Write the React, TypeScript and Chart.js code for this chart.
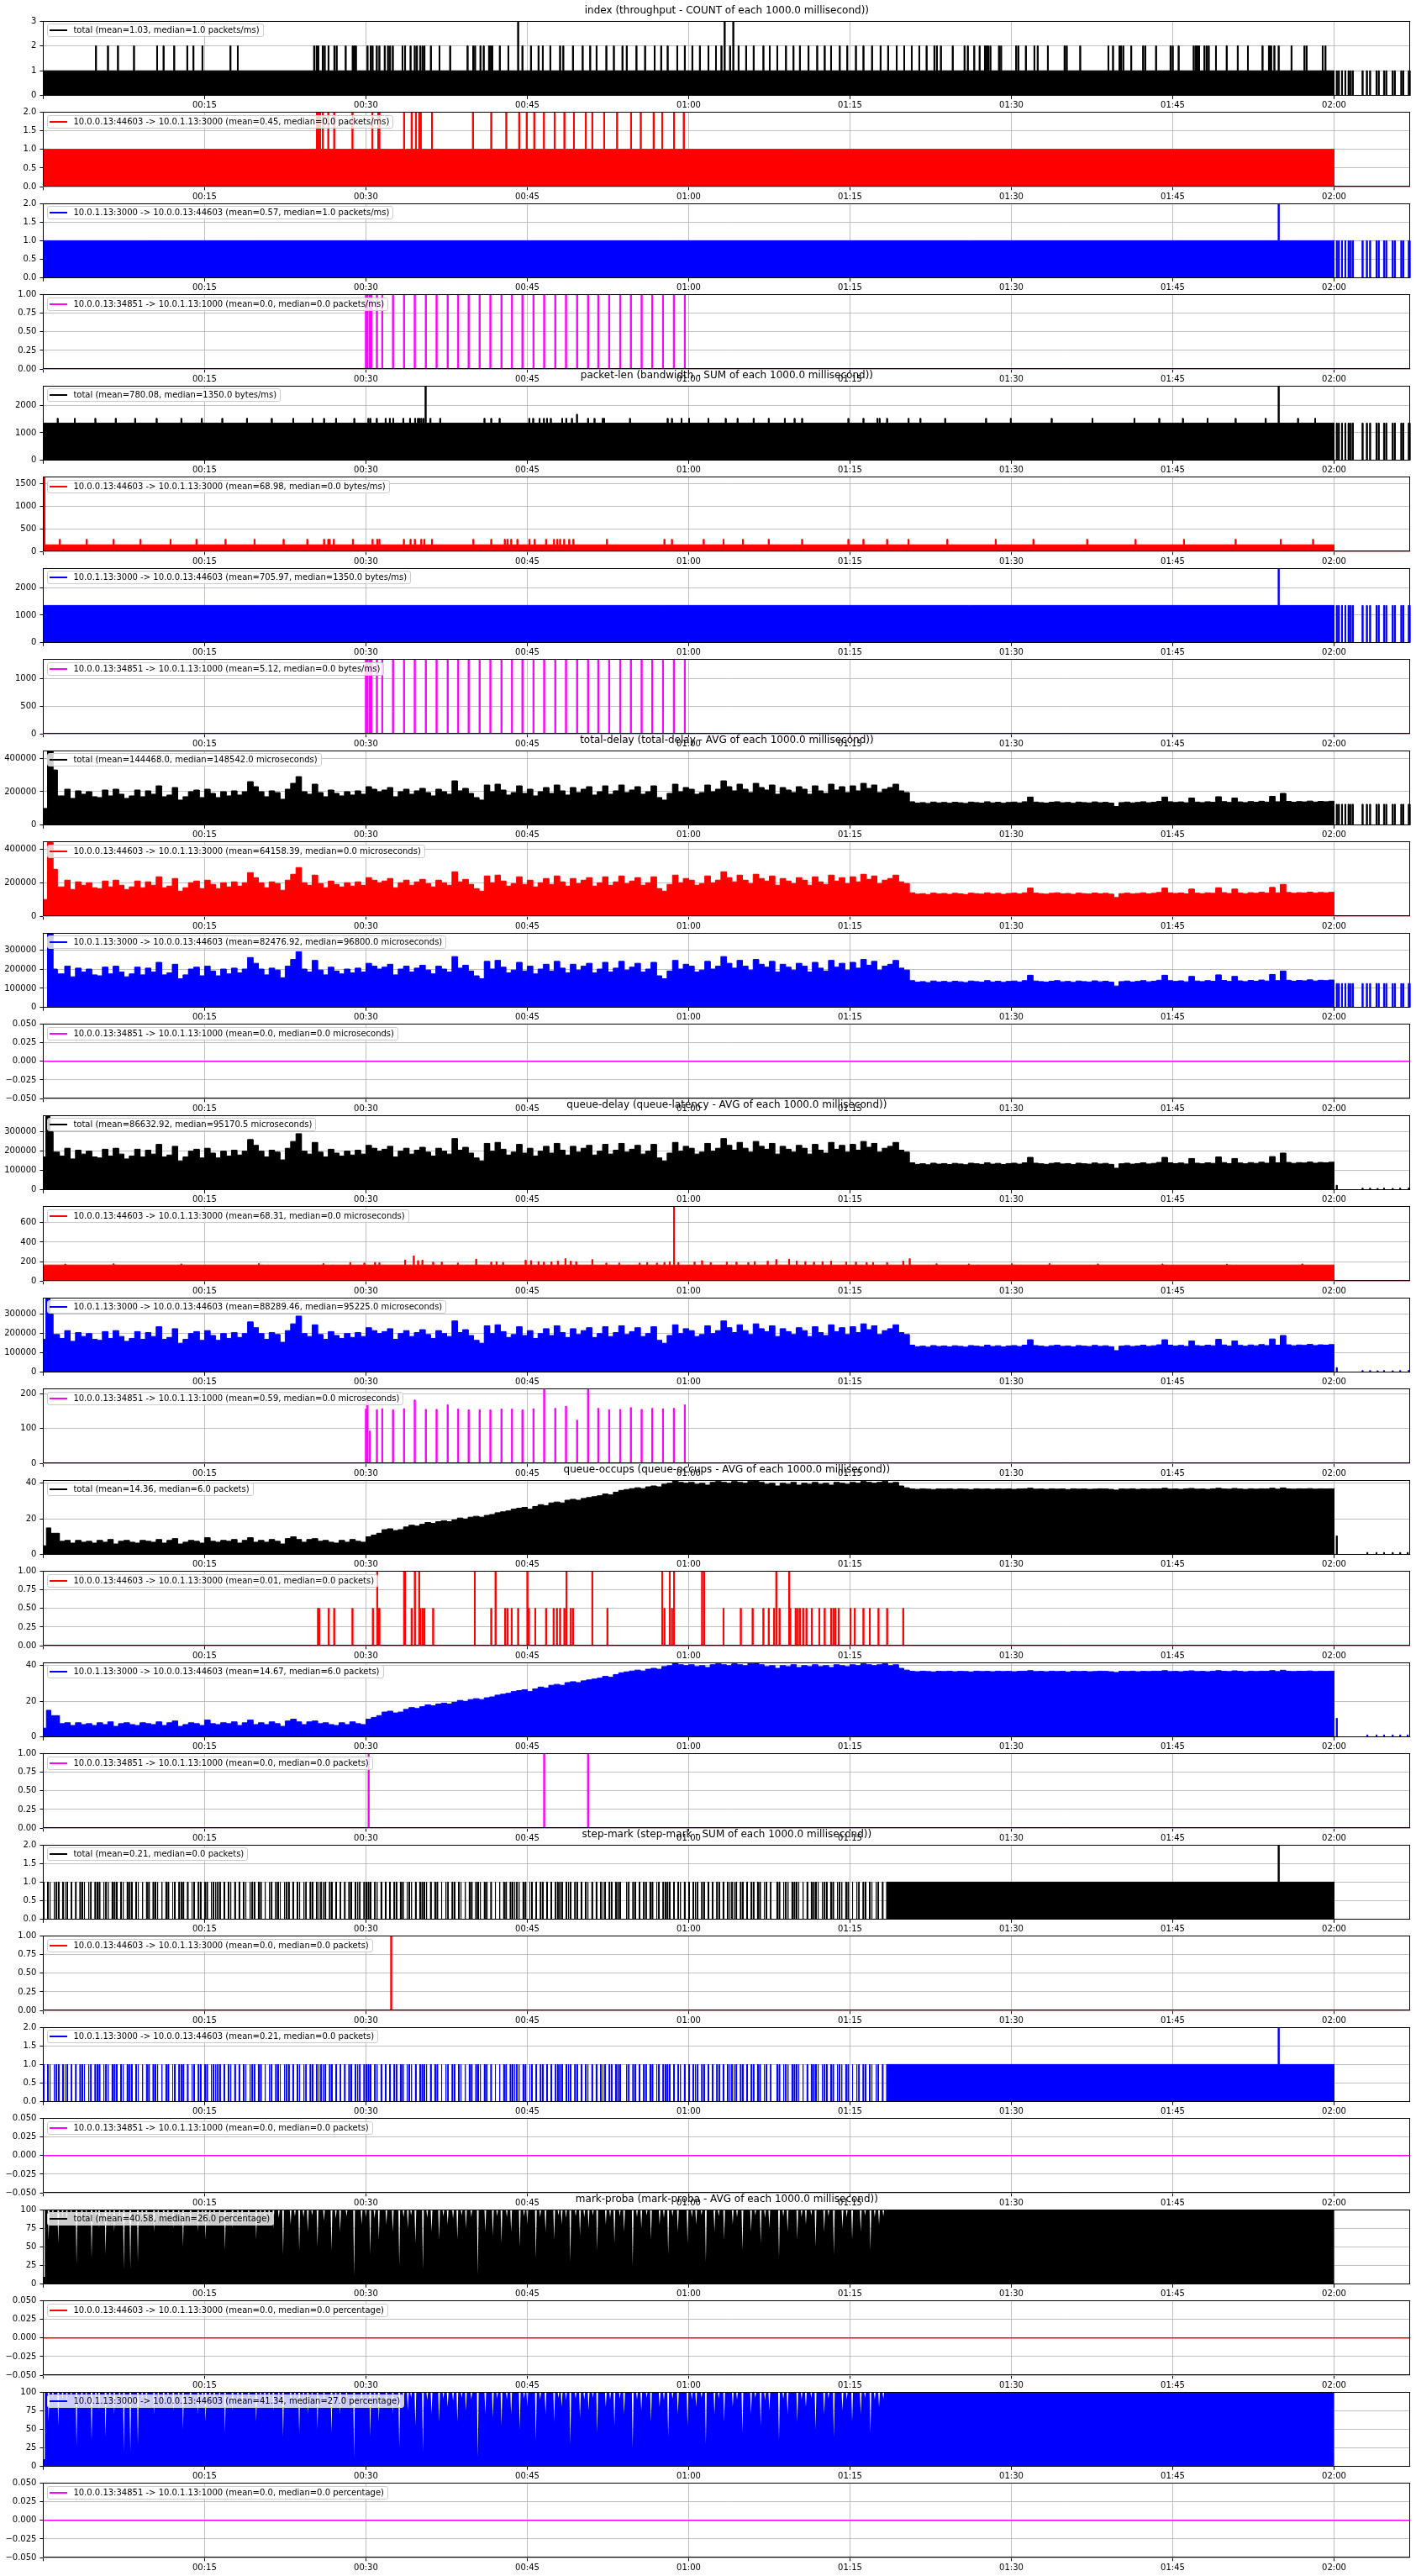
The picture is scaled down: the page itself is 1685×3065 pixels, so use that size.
import React, { useEffect, useRef } from 'react';
import { Chart, registerables } from 'chart.js';

Chart.register(...registerables);

const FONT = '"DejaVu Sans", "Noto Sans", sans-serif';

// ---------------- data (x in minutes) ----------------
const X_MAX = 127.1;
const X_TICKS = [0, 15, 30, 45, 60, 75, 90, 105, 120];

const TITLES = [
  'index (throughput - COUNT of each 1000.0 millisecond))',
  'packet-len (bandwidth - SUM of each 1000.0 millisecond))',
  'total-delay (total-delay - AVG of each 1000.0 millisecond))',
  'queue-delay (queue-latency - AVG of each 1000.0 millisecond))',
  'queue-occups (queue-occups - AVG of each 1000.0 millisecond))',
  'step-mark (step-mark - SUM of each 1000.0 millisecond))',
  'mark-proba (mark-proba - AVG of each 1000.0 millisecond))',
];

const LABELS = [
  'total (mean=1.03, median=1.0 packets/ms)',
  '10.0.0.13:44603 -> 10.0.1.13:3000 (mean=0.45, median=0.0 packets/ms)',
  '10.0.1.13:3000 -> 10.0.0.13:44603 (mean=0.57, median=1.0 packets/ms)',
  '10.0.0.13:34851 -> 10.0.1.13:1000 (mean=0.0, median=0.0 packets/ms)',
  'total (mean=780.08, median=1350.0 bytes/ms)',
  '10.0.0.13:44603 -> 10.0.1.13:3000 (mean=68.98, median=0.0 bytes/ms)',
  '10.0.1.13:3000 -> 10.0.0.13:44603 (mean=705.97, median=1350.0 bytes/ms)',
  '10.0.0.13:34851 -> 10.0.1.13:1000 (mean=5.12, median=0.0 bytes/ms)',
  'total (mean=144468.0, median=148542.0 microseconds)',
  '10.0.0.13:44603 -> 10.0.1.13:3000 (mean=64158.39, median=0.0 microseconds)',
  '10.0.1.13:3000 -> 10.0.0.13:44603 (mean=82476.92, median=96800.0 microseconds)',
  '10.0.0.13:34851 -> 10.0.1.13:1000 (mean=0.0, median=0.0 microseconds)',
  'total (mean=86632.92, median=95170.5 microseconds)',
  '10.0.0.13:44603 -> 10.0.1.13:3000 (mean=68.31, median=0.0 microseconds)',
  '10.0.1.13:3000 -> 10.0.0.13:44603 (mean=88289.46, median=95225.0 microseconds)',
  '10.0.0.13:34851 -> 10.0.1.13:1000 (mean=0.59, median=0.0 microseconds)',
  'total (mean=14.36, median=6.0 packets)',
  '10.0.0.13:44603 -> 10.0.1.13:3000 (mean=0.01, median=0.0 packets)',
  '10.0.1.13:3000 -> 10.0.0.13:44603 (mean=14.67, median=6.0 packets)',
  '10.0.0.13:34851 -> 10.0.1.13:1000 (mean=0.0, median=0.0 packets)',
  'total (mean=0.21, median=0.0 packets)',
  '10.0.0.13:44603 -> 10.0.1.13:3000 (mean=0.0, median=0.0 packets)',
  '10.0.1.13:3000 -> 10.0.0.13:44603 (mean=0.21, median=0.0 packets)',
  '10.0.0.13:34851 -> 10.0.1.13:1000 (mean=0.0, median=0.0 packets)',
  'total (mean=40.58, median=26.0 percentage)',
  '10.0.0.13:44603 -> 10.0.1.13:3000 (mean=0.0, median=0.0 percentage)',
  '10.0.1.13:3000 -> 10.0.0.13:44603 (mean=41.34, median=27.0 percentage)',
  '10.0.0.13:34851 -> 10.0.1.13:1000 (mean=0.0, median=0.0 percentage)',
];

// bars after 02:00 (minutes)
const TAIL_TIMES = [120.2, 120.4, 120.7, 121.0, 121.3, 121.5, 121.7, 122.6, 123.0, 123.3, 123.9, 124.1, 124.6, 124.8, 125.4, 125.6, 126.2, 126.4, 126.9, 127.0];

// magenta flow events
const MAGENTA_TIMES = [29.95, 30.1, 30.3, 30.45, 30.97, 31.47, 32.47, 33.49, 34.49, 35.52, 36.52, 37.55, 38.53, 39.5, 40.52, 41.52, 42.55, 43.53, 44.5, 45.53, 46.52, 47.55, 48.55, 49.58, 50.6, 51.55, 52.56, 53.59, 54.58, 55.58, 56.57, 57.57, 58.58, 59.6];

// index
const IDX_TOTAL_TWO = [4.86, 5.97, 6.9, 8.39, 10.55, 11.14, 12.13, 13.35, 13.92, 14.76, 17.36, 18.05,
  25.14, 25.37, 25.52, 25.94, 26.12, 26.48, 27.02, 27.23, 28.07, 28.72, 28.87, 29.02,
  30.1, 30.4, 30.57, 30.96, 31.2, 31.7, 32.0, 32.2, 32.45, 33.36, 33.6, 34.1, 34.49, 34.7, 35.0, 35.2, 35.4, 35.99, 36.8, 37.78, 39.4, 39.93, 40.1, 40.6, 40.9, 41.4, 41.55, 41.7, 42.4,
  43.2, 44.5, 45.3, 46.0, 46.4, 47.1, 48.0, 48.3, 49.2, 50.1, 50.8, 51.4, 52.3, 53.0, 53.8, 54.2, 55.1, 55.9, 56.8, 57.4, 58.0, 58.9, 59.6, 60.3, 61.0, 61.8, 62.5, 63.0, 63.8, 64.6, 65.3, 66.0, 66.9, 67.5, 68.2, 69.0, 69.7, 70.3, 71.1, 71.9, 72.6, 73.2, 74.0, 74.7, 75.5, 76.2, 77.0, 77.8, 78.5, 79.3, 80.0, 80.7, 81.4,
  82.07, 82.8, 83.03, 83.4, 84.5, 85.6, 85.9, 86.5, 87.0, 87.5, 87.65, 87.8, 88.0, 88.8, 89.0, 90.4, 90.6, 91.3, 92.1, 92.4, 93.35, 94.9, 95.1, 96.35, 98.98, 99.4, 100.0, 100.15, 100.35, 101.1, 102.2, 102.4, 103.4, 104.75, 104.95, 105.5, 106.9, 107.1, 107.25, 107.4, 107.9, 108.1, 108.3, 108.98, 109.97, 111.0, 111.95, 113.3, 113.9, 114.0, 114.1, 114.4, 114.8, 116.0, 117.2, 117.4, 118.9, 119.15];
const IDX_TOTAL_THREE = [44.1, 63.3, 64.1];
const IDX_RED_TWO = [25.4, 25.55, 25.7, 25.95, 26.45, 27.0, 28.7, 30.56, 31.1, 31.2, 33.5, 34.2, 34.6, 34.9, 35.05, 36.1, 39.9, 41.6, 43.0, 44.2, 44.9, 45.6, 46.5, 47.5, 48.4, 49.3, 50.4, 51.0, 52.1, 53.3, 54.6, 55.5, 56.7, 57.5, 58.6, 59.5];
const IDX_BLUE_TWO = [114.8];

// packet-len (bytes/ms)
const PKT_TOTAL_SMALL = [1.3, 2.9, 4.8, 6.7, 8.5, 10.5, 12.8, 14.7, 16.6, 18.9, 21.2, 23.2, 25.0, 26.06, 27.18, 28.87, 30.18, 30.36, 30.96, 31.79, 32.18, 32.5, 33.43, 34.06, 34.53, 34.79, 34.92, 35.1, 35.3, 35.95, 36.86, 40.97, 41.6, 42.38, 45.14, 45.5, 46.1, 46.5, 46.8, 47.14, 48.2, 48.58, 49.1, 50.6, 51.2, 51.97, 52.1, 54.5, 58.0, 58.4, 59.3, 60.0, 61.8, 63.4, 64.5, 66.0, 67.4, 68.9, 69.8, 70.5, 74.8, 76.2, 77.5, 77.7, 78.4, 80.4, 81.5, 83.8, 87.6, 89.9, 93.7, 97.5, 101.4, 103.7, 105.9, 108.2, 110.8, 113.6, 116.6, 118.2];
const PKT_TOTAL_TALL = [[35.5, 2700], [49.57, 1670], [114.8, 2700]];
const PKT_RED_SPIKES = [1.5, 4.0, 6.5, 9.0, 11.8, 14.2, 16.9, 19.6, 22.3, 24.5, 26.06, 26.45, 26.58, 26.97, 28.74, 30.57, 31.0, 31.2, 33.48, 34.1, 34.5, 35.1, 35.4, 36.1, 39.94, 41.6, 42.86, 43.1, 43.46, 44.03, 45.15, 45.64, 46.7, 47.44, 47.75, 48.0, 48.38, 48.85, 49.24, 52.36, 57.7, 58.4, 61.35, 63.2, 65.0, 67.4, 70.5, 74.8, 76.2, 78.4, 80.4, 84.0, 88.5, 92.0, 97.0, 101.5, 106.0, 110.8, 115.0, 118.0];

// delay profile, thousands of microseconds, one value per 0.5 minute (00:00 .. 02:00)
const DELAY_K_US = [
  100, 445, 330, 175, 215, 160, 205, 185, 200, 170, 165, 210, 175, 215, 185, 160, 175, 210, 170, 205,
  185, 235, 170, 180, 225, 150, 170, 200, 210, 165, 215, 190, 165, 200, 175, 205, 180, 200, 260, 230,
  200, 170, 205, 195, 155, 215, 250, 290, 200, 185, 245, 195, 170, 210, 190, 175, 200, 180, 205, 185,
  230, 215, 200, 210, 225, 170, 200, 215, 185, 205, 220, 195, 175, 215, 200, 185, 265, 205, 220, 190,
  165, 150, 240, 200, 245, 210, 180, 195, 235, 190, 215, 175, 200, 225, 190, 240, 205, 180, 225, 195,
  215, 230, 180, 200, 235, 185, 205, 240, 195, 210, 230, 185, 200, 235, 165, 150, 190, 245, 200, 225,
  215, 185, 195, 240, 200, 215, 265, 230, 205, 245, 215, 195, 250, 225, 210, 240, 185, 225, 210, 195,
  230, 215, 185, 235, 205, 190, 245, 210, 230, 195, 235, 205, 250, 220, 240, 195, 215, 225, 245, 205,
  195, 140, 132, 135, 130, 138, 133, 136, 131, 137, 134, 130, 138, 135, 132, 140, 133, 137, 131, 136,
  138, 133, 140, 168, 138, 135, 132, 137, 140, 134, 136, 131, 138, 135, 133, 139, 134, 137, 132, 112,
  135, 138, 133, 136, 140, 134, 137, 142, 168, 140, 136, 139, 134, 162, 138, 135, 140, 137, 170, 141,
  136, 162, 139, 135, 141, 137, 143, 138, 172, 140, 190, 142, 137, 141, 139, 144, 138, 142, 140, 143,
];
// first seconds [start, end, microseconds]
const TOTAL_DELAY_HEAD = [[0, 0.4, 100000], [0.4, 0.9, 445000], [0.9, 1.3, 330000], [1.3, 1.5, 175000]];
const RED_DELAY_HEAD = [[0, 0.4, 100000], [0.4, 0.9, 445000], [0.9, 1.3, 280000], [1.3, 1.5, 175000]];
const BLUE_DELAY_HEAD = [[0, 0.4, 0], [0.4, 0.9, 388000], [0.9, 1.3, 200000], [1.3, 1.5, 175000]];
const QUEUE_DELAY_HEAD = [[0, 0.25, 170000], [0.25, 0.6, 385000], [0.6, 0.9, 300000], [0.9, 1.5, 195000]];
const DELAY_TAIL_US = 125000;
const QUEUE_DELAY_TAIL = [[120.2, 24000], [122.6, 9000], [123.3, 9000], [124.0, 8000], [124.6, 9000], [125.4, 8000], [126.1, 9000], [126.9, 10000]];
const QD_RED_BASE = 165;
const QD_RED_SPIKES = [[2, 175], [6.5, 178], [12.8, 176], [20, 180], [26, 180], [28.5, 190], [29.8, 185], [30.8, 192], [31.2, 188], [33.6, 217], [34.4, 259], [34.8, 210], [35.2, 215], [36.2, 195], [37, 195], [38.5, 185], [40.2, 225], [41.6, 195], [42.1, 200], [42.7, 190], [44.8, 215], [45.3, 210], [46, 200], [46.5, 195], [47.2, 198], [47.8, 205], [48.5, 230], [49, 205], [49.5, 200], [51, 220], [52.3, 185], [53.5, 185], [55.4, 185], [56.1, 190], [57, 185], [57.7, 190], [58.2, 200], [58.6, 770], [59, 190], [60.5, 195], [61.2, 210], [62, 190], [63.5, 195], [64.4, 195], [65.5, 190], [66.1, 200], [67.3, 205], [68.1, 220], [69.3, 225], [70, 205], [70.8, 200], [71.6, 195], [72.4, 200], [73.2, 205], [74.6, 195], [75.5, 195], [76.5, 190], [77.1, 190], [78.4, 190], [79.9, 205], [80.5, 230], [83, 178], [86, 176], [90, 178], [93.5, 180], [98, 176], [104, 176], [110, 175], [117, 176]];
const QD_MAGENTA_VALUES = [156, 193, 93, 0, 154, 157, 154, 157, 182, 155, 155, 168, 156, 154, 154, 154, 156, 156, 154, 157, 215, 158, 164, 124, 215, 158, 154, 155, 160, 155, 158, 157, 158, 168];

// queue occupancy (packets), one value per 0.5 minute
const OCCUPS = [
  6, 15, 12, 7.5, 8, 6.5, 8, 7, 7.5, 6.5, 8, 7, 8.5, 6, 7.5, 8, 7, 6.5, 8, 7.5,
  7, 8.5, 6.5, 8, 9, 6, 7, 8, 7.5, 6.5, 9.5, 7.5, 7, 8, 7.5, 8.5, 6.5, 8, 9.5, 7,
  8, 7, 8.5, 7.5, 6, 9, 10, 8.5, 7, 8.5, 9, 7.5, 8, 7, 6.5, 8, 7, 8.5, 7.5, 7,
  10, 11, 12, 14, 14.5, 13.5, 14, 15.5, 16.5, 16, 17, 18, 17.5, 18.5, 19, 18.5, 19.5, 20.5, 20, 21,
  21.5, 21, 22, 22.5, 23.5, 24, 24.5, 25.5, 26, 26.5, 25.5, 27, 28, 27.5, 29, 29.5, 29, 30.5, 31, 30.5,
  31.5, 32, 32.5, 33, 34, 33.5, 35, 36, 36.5, 37, 37.5, 37, 38, 38.5, 38, 39.5, 40, 41.5, 40.5, 40,
  40.5, 39.5, 40, 39, 40.5, 41, 40.5, 40, 41, 40.5, 40, 41, 41.8, 40.5, 39.5, 40, 38.5, 40, 39.5, 40.5,
  39, 40, 39.5, 40.5, 39.5, 40, 39, 40.5, 40, 39.5, 40.5, 40, 41, 40.5, 40, 40.5, 41, 40, 40.5, 38.5,
  37.5, 36.8, 36.6, 36.9, 36.7, 36.5, 36.8, 36.7, 36.9, 36.6, 36.8, 36.7, 36.5, 36.9, 36.7, 36.8, 36.6, 36.9, 36.7, 36.8,
  36.6, 36.8, 36.9, 37.2, 36.7, 36.8, 36.6, 36.9, 36.7, 36.8, 36.5, 36.9, 36.7, 36.8, 36.6, 36.7, 36.9, 36.8, 36.6, 36.2,
  36.8, 36.7, 36.9, 36.6, 36.8, 36.7, 36.9, 36.8, 37.2, 36.7, 36.8, 36.6, 36.9, 37.1, 36.7, 36.8, 36.6, 36.9, 37.2, 36.8,
  36.7, 37.1, 36.8, 36.6, 36.9, 36.7, 36.9, 36.8, 37.2, 36.7, 37.4, 36.8, 36.7, 36.9, 36.8, 37.0, 36.7, 36.9, 36.8, 36.9,
];
const OCCUPS_HEAD = [[0, 0.3, 5], [0.3, 0.7, 15], [0.7, 1.0, 12]];
const OCCUPS_TAIL = [[120.2, 10.5], [123.05, 1.2], [123.9, 1.2], [124.6, 1.2], [125.4, 1.2], [126.1, 1.2], [126.8, 1.2]];
const OCC_RED_HALF = [25.5, 25.6, 26.5, 27.0, 28.7, 30.6, 31.1, 31.2, 34.2, 35.0, 35.2, 35.4, 36.2, 40.05, 41.6, 42.9, 43.1, 43.5, 44.1, 45.1, 45.7, 46.7, 47.4, 47.7, 48.0, 48.4, 49.0, 49.2, 52.4, 57.7, 58.4, 61.2, 63.2, 64.8, 65.9, 66.9, 67.4, 67.9, 68.4, 69.4, 69.9, 70.1, 70.3, 70.6, 70.9, 71.4, 72.1, 72.6, 73.2, 73.4, 73.6, 73.9, 75.0, 75.4, 76.2, 76.8, 77.6, 78.4, 79.9];
const OCC_RED_FULL = [31.0, 33.5, 33.6, 34.5, 34.9, 40.1, 42.0, 44.96, 48.6, 51.0, 57.5, 58.2, 58.6, 61.2, 61.4, 68.1, 69.3];
const OCC_MAGENTA = [30.2, 46.52, 50.6];

// step-mark: one char per 0.2 minute from 00:00, '1' = a mark in that bin
const STEP_PATTERN = [
  '1011011101', '1101010111', '0110111011', '1011101101', '1101101011', '0111010110', '1101110101', '1011011011',
  '1110101101', '0101101110', '1101011011', '1011101011', '0110110111', '1101101010', '1011011101', '1110110101',
  '0101101101', '1101011110', '1011010110', '1101101011', '0111011010', '1010110111', '1101101101', '0110101011',
  '1101110110', '1011010101', '1101101110', '0110110101', '1011011011', '1101011010', '1011101101', '0101101011',
  '1110110101', '1011011010', '0110111011', '1101010111', '1011101101', '1101101011', '0110110110', '1011',
].join('');
const STEP_BIN = 0.2;
const STEP_BLOCK = [78.5, 120.0];
const STEP_TWO = [114.8];
const STEP_RED = [32.3];

// mark-proba: dips below 100 % [minute, value]
const MARK_DIPS = [[0.5, 60], [0.9, 92], [1.4, 55], [1.8, 90], [2.2, 85], [2.6, 93], [3.1, 27], [3.6, 80], [4.0, 92], [4.5, 35], [4.9, 90], [5.2, 75], [5.8, 40], [6.2, 91], [6.6, 70], [7.1, 88], [7.5, 20], [8.1, 20], [8.8, 30], [9.2, 90], [9.6, 80], [10.3, 70], [10.7, 92], [11.2, 85], [11.6, 90], [12.1, 75], [12.6, 91], [13.0, 50], [13.7, 80], [14.4, 70], [14.8, 92], [15.1, 60], [15.5, 89], [15.9, 85], [16.4, 91], [16.9, 45], [17.6, 75], [18.1, 90], [18.5, 80], [19.1, 88], [19.8, 60], [20.2, 92], [20.6, 85], [21.0, 90], [21.4, 75], [21.9, 89], [22.3, 40], [23.0, 80], [23.4, 91], [23.8, 45], [24.2, 90], [24.6, 70], [25.0, 92], [25.5, 50], [26.1, 85], [26.8, 45], [27.2, 88], [27.6, 70], [28.2, 91], [28.9, 12], [29.6, 80], [30.0, 90], [30.4, 40], [30.8, 88], [31.2, 60], [31.9, 80], [32.5, 70], [33.1, 25], [33.5, 90], [33.9, 75], [34.2, 92], [34.6, 55], [35.3, 20], [35.7, 89], [36.1, 70], [36.8, 60], [37.2, 91], [37.6, 80], [38.1, 88], [38.5, 60], [38.9, 92], [39.3, 75], [39.8, 90], [40.4, 13], [41.1, 70], [41.8, 65], [42.2, 91], [42.6, 55],
  [43.1, 90], [43.5, 70], [44.3, 50], [44.7, 91], [45.0, 80], [45.8, 35], [46.2, 90], [46.7, 70], [47.5, 60], [47.9, 92], [48.2, 80], [48.6, 89], [49.0, 30], [49.5, 91], [49.9, 65], [50.3, 90], [50.7, 75], [51.1, 92], [51.5, 45], [52.3, 80], [52.7, 90], [53.1, 55], [53.6, 91], [54.0, 70], [54.8, 25], [55.2, 90], [55.6, 75], [56.1, 92], [56.5, 60], [57.3, 80], [57.7, 89], [58.1, 40], [58.5, 91], [59.0, 70], [59.9, 55], [60.3, 90], [60.7, 80], [61.2, 92], [61.6, 30], [62.4, 70], [62.8, 91], [63.3, 60], [64.1, 80], [64.5, 90], [65.0, 45], [65.8, 70], [66.2, 92], [66.7, 55], [67.1, 89], [67.5, 75], [68.4, 35], [68.8, 91], [69.2, 70], [70.1, 60], [70.5, 90], [70.9, 80], [71.4, 92], [71.8, 50], [72.6, 70], [73.0, 91], [73.5, 40], [74.3, 75], [74.7, 90], [75.2, 60], [76.0, 70], [76.4, 92], [76.9, 45], [77.3, 90], [77.7, 80], [78.1, 91]];
const MARK_HEAD = [0.15, 10];
const MARK_END = 120.0;

// ---------------- layout ----------------
const W = 1685;
const H = 3065;
const PLOT_LEFT = 51.4;
const PLOT_RIGHT = 1678.4;
const FIRST_TOP = 23.3;
const PITCH = 108.5;
const PANEL_H = 90.5;
const CANVAS_H = 117;
const SPIKE_W = 0.08;
const STEP_W = 0.06;
const DIP_W = 0.08;

const BLACK = '#000000';
const RED = '#ff0000';
const BLUE = '#0000ff';
const MAGENTA = '#ff00ff';

type Rect = [number, number, number];
type Pt = { x: number; y: number };

const spikes = (times: number[], h: number): Rect[] => times.map((t) => [t, t + SPIKE_W, h] as Rect);
const spikesV = (pairs: number[][]): Rect[] => pairs.map(([t, h]) => [t, t + SPIKE_W, h] as Rect);
const segs = (list: number[][]): Rect[] => list.map(([a, b, v]) => [a, b, v] as Rect);
const arrayRects = (vals: number[], step: number, unit: number, from: number): Rect[] => {
  const out: Rect[] = [];
  vals.forEach((v, k) => {
    const a = Math.max(k * step, from);
    const b = (k + 1) * step;
    if (b > a) out.push([a, b, v * unit]);
  });
  return out;
};

function stepPoints(rects: Rect[]): Pt[] {
  const set = new Set<number>([0, X_MAX]);
  for (const r of rects) {
    if (r[0] > 0 && r[0] < X_MAX) set.add(r[0]);
    if (r[1] > 0 && r[1] < X_MAX) set.add(r[1]);
  }
  const xs = Array.from(set).sort((a, b) => a - b);
  const pts: Pt[] = [];
  for (let i = 0; i < xs.length - 1; i++) {
    const a = xs[i];
    const b = xs[i + 1];
    const m = (a + b) / 2;
    let v = 0;
    for (const r of rects) if (r[0] <= m && m < r[1] && r[2] > v) v = r[2];
    pts.push({ x: a, y: v }, { x: b, y: v });
  }
  return pts;
}

function dipPoints(): Pt[] {
  const pts: Pt[] = [
    { x: 0, y: MARK_HEAD[1] },
    { x: MARK_HEAD[0], y: MARK_HEAD[1] },
    { x: MARK_HEAD[0], y: 100 },
  ];
  for (const [t, v] of MARK_DIPS) {
    pts.push({ x: t - DIP_W, y: 100 }, { x: t, y: v }, { x: t + DIP_W, y: 100 });
  }
  pts.push({ x: MARK_END, y: 100 }, { x: MARK_END, y: 0 }, { x: X_MAX, y: 0 });
  return pts;
}

const zeroLine = (): Pt[] => [{ x: 0, y: 0 }, { x: X_MAX, y: 0 }];

const stepRects = (): Rect[] => {
  const out: Rect[] = [];
  for (let i = 0; i < STEP_PATTERN.length; i++) {
    const t = i * STEP_BIN;
    if (t < STEP_BLOCK[0] && STEP_PATTERN[i] === '1') out.push([t, t + STEP_W, 1]);
  }
  out.push([STEP_BLOCK[0], STEP_BLOCK[1], 1]);
  return out.concat(spikes(STEP_TWO, 2));
};

interface Spec {
  color: string;
  min: number;
  max: number;
  ticks: number[];
  dec: number;
  pts: Pt[];
  kind: 'fill' | 'line' | 'area';
}

const T_INDEX3 = [0, 1, 2, 3];
const T_TWO = [0, 0.5, 1, 1.5, 2];
const T_ONE = [0, 0.25, 0.5, 0.75, 1];
const T_ZERO = [-0.05, -0.025, 0, 0.025, 0.05];
const T_PCT = [0, 25, 50, 75, 100];

function buildSpecs(): Spec[] {
  const delayMain = arrayRects(DELAY_K_US, 0.5, 1000, 1.5);
  const occMain = arrayRects(OCCUPS, 0.5, 1, 1.0);
  const steps = stepRects();
  const marks = dipPoints();
  return [
    { color: BLACK, min: 0, max: 3, ticks: T_INDEX3, dec: 0, kind: 'fill',
      pts: stepPoints([[0, 120, 1], ...spikes(IDX_TOTAL_TWO, 2), ...spikes(IDX_TOTAL_THREE, 3), ...spikes(TAIL_TIMES, 1)]) },
    { color: RED, min: 0, max: 2, ticks: T_TWO, dec: 1, kind: 'fill',
      pts: stepPoints([[0, 120, 1], ...spikes(IDX_RED_TWO, 2)]) },
    { color: BLUE, min: 0, max: 2, ticks: T_TWO, dec: 1, kind: 'fill',
      pts: stepPoints([[0, 120, 1], ...spikes(IDX_BLUE_TWO, 2), ...spikes(TAIL_TIMES, 1)]) },
    { color: MAGENTA, min: 0, max: 1, ticks: T_ONE, dec: 2, kind: 'fill',
      pts: stepPoints(spikes(MAGENTA_TIMES, 1)) },
    { color: BLACK, min: 0, max: 2700, ticks: [0, 1000, 2000], dec: 0, kind: 'fill',
      pts: stepPoints([[0, 120, 1350], ...spikes(PKT_TOTAL_SMALL, 1520), ...spikesV(PKT_TOTAL_TALL), ...spikes(TAIL_TIMES, 1350)]) },
    { color: RED, min: 0, max: 1650, ticks: [0, 500, 1000, 1500], dec: 0, kind: 'fill',
      pts: stepPoints([[0, 0.15, 1650], [0.15, 120, 150], ...spikes(PKT_RED_SPIKES, 270)]) },
    { color: BLUE, min: 0, max: 2700, ticks: [0, 1000, 2000], dec: 0, kind: 'fill',
      pts: stepPoints([[0, 120, 1350], ...spikes(IDX_BLUE_TWO, 2700), ...spikes(TAIL_TIMES, 1350)]) },
    { color: MAGENTA, min: 0, max: 1350, ticks: [0, 500, 1000], dec: 0, kind: 'fill',
      pts: stepPoints(spikes(MAGENTA_TIMES, 1350)) },
    { color: BLACK, min: 0, max: 446000, ticks: [0, 200000, 400000], dec: 0, kind: 'fill',
      pts: stepPoints([...segs(TOTAL_DELAY_HEAD), ...delayMain, ...spikes(TAIL_TIMES, DELAY_TAIL_US)]) },
    { color: RED, min: 0, max: 446000, ticks: [0, 200000, 400000], dec: 0, kind: 'fill',
      pts: stepPoints([...segs(RED_DELAY_HEAD), ...delayMain]) },
    { color: BLUE, min: 0, max: 388000, ticks: [0, 100000, 200000, 300000], dec: 0, kind: 'fill',
      pts: stepPoints([...segs(BLUE_DELAY_HEAD), ...delayMain, ...spikes(TAIL_TIMES, DELAY_TAIL_US)]) },
    { color: MAGENTA, min: -0.05, max: 0.05, ticks: T_ZERO, dec: 3, kind: 'line', pts: zeroLine() },
    { color: BLACK, min: 0, max: 385000, ticks: [0, 100000, 200000, 300000], dec: 0, kind: 'fill',
      pts: stepPoints([...segs(QUEUE_DELAY_HEAD), ...delayMain, ...spikesV(QUEUE_DELAY_TAIL)]) },
    { color: RED, min: 0, max: 770, ticks: [0, 200, 400, 600], dec: 0, kind: 'fill',
      pts: stepPoints([[0, 120, QD_RED_BASE], ...spikesV(QD_RED_SPIKES)]) },
    { color: BLUE, min: 0, max: 385000, ticks: [0, 100000, 200000, 300000], dec: 0, kind: 'fill',
      pts: stepPoints([...segs(QUEUE_DELAY_HEAD), ...delayMain, ...spikesV(QUEUE_DELAY_TAIL)]) },
    { color: MAGENTA, min: 0, max: 215, ticks: [0, 100, 200], dec: 0, kind: 'fill',
      pts: stepPoints(spikesV(MAGENTA_TIMES.map((t, i) => [t, QD_MAGENTA_VALUES[i]]))) },
    { color: BLACK, min: 0, max: 41.8, ticks: [0, 20, 40], dec: 0, kind: 'fill',
      pts: stepPoints([...segs(OCCUPS_HEAD), ...occMain, ...spikesV(OCCUPS_TAIL)]) },
    { color: RED, min: 0, max: 1, ticks: T_ONE, dec: 2, kind: 'fill',
      pts: stepPoints([...spikes(OCC_RED_HALF, 0.5), ...spikes(OCC_RED_FULL, 1)]) },
    { color: BLUE, min: 0, max: 41.8, ticks: [0, 20, 40], dec: 0, kind: 'fill',
      pts: stepPoints([...segs(OCCUPS_HEAD), ...occMain, ...spikesV(OCCUPS_TAIL)]) },
    { color: MAGENTA, min: 0, max: 1, ticks: T_ONE, dec: 2, kind: 'fill',
      pts: stepPoints(spikes(OCC_MAGENTA, 1)) },
    { color: BLACK, min: 0, max: 2, ticks: T_TWO, dec: 1, kind: 'fill', pts: stepPoints(steps) },
    { color: RED, min: 0, max: 1, ticks: T_ONE, dec: 2, kind: 'fill', pts: stepPoints(spikes(STEP_RED, 1)) },
    { color: BLUE, min: 0, max: 2, ticks: T_TWO, dec: 1, kind: 'fill', pts: stepPoints(steps) },
    { color: MAGENTA, min: -0.05, max: 0.05, ticks: T_ZERO, dec: 3, kind: 'line', pts: zeroLine() },
    { color: BLACK, min: 0, max: 100, ticks: T_PCT, dec: 0, kind: 'area', pts: marks },
    { color: RED, min: -0.05, max: 0.05, ticks: T_ZERO, dec: 3, kind: 'line', pts: zeroLine() },
    { color: BLUE, min: 0, max: 100, ticks: T_PCT, dec: 0, kind: 'area', pts: marks },
    { color: MAGENTA, min: -0.05, max: 0.05, ticks: T_ZERO, dec: 3, kind: 'line', pts: zeroLine() },
  ];
}

const fmtX = (v: number) => {
  if (v === 0) return '';
  const h = Math.floor(v / 60);
  const m = Math.round(v - h * 60);
  return `${String(h).padStart(2, '0')}:${String(m).padStart(2, '0')}`;
};
const fmtY = (v: number, dec: number) => Number(v).toFixed(dec).replace('-', '\u2212');

const framePlugin = {
  id: 'frame',
  afterDraw(chart: any) {
    const { ctx, chartArea: a } = chart;
    ctx.save();
    ctx.strokeStyle = '#000';
    ctx.lineWidth = 1;
    const l = Math.round(a.left) + 0.5;
    const t = Math.round(a.top) + 0.5;
    const r = Math.round(a.right) - 0.5;
    const b = Math.round(a.bottom) - 0.5;
    ctx.strokeRect(l, t, r - l, b - t);
    ctx.restore();
  },
};

function Panel({ spec, index }: { spec: Spec; index: number }) {
  const ref = useRef<HTMLCanvasElement>(null);
  const top = FIRST_TOP + PITCH * index;
  const canvasTop = Math.floor(top) - 8;
  const padTop = top - canvasTop;
  const xAxisH = CANVAS_H - padTop - PANEL_H;

  useEffect(() => {
    const grid = {
      color: '#b0b0b0',
      lineWidth: 0.8,
      drawTicks: true,
      tickLength: 4,
      tickColor: '#000',
      tickWidth: 1,
    };
    const ds: any = {
      data: spec.pts,
      borderColor: spec.color,
      backgroundColor: spec.color,
      borderWidth: spec.kind === 'line' ? 1.5 : spec.kind === 'area' ? 0 : 1,
      fill: spec.kind === 'line' ? false : 'origin',
      pointRadius: 0,
      pointHoverRadius: 0,
      tension: 0,
      borderJoinStyle: 'miter',
    };
    const chart = new Chart(ref.current as HTMLCanvasElement, {
      type: 'line',
      data: { datasets: [ds] },
      options: {
        animation: false,
        responsive: false,
        devicePixelRatio: 1,
        events: [],
        parsing: false,
        normalized: true,
        layout: { padding: { top: padTop, right: W - PLOT_RIGHT, left: 0, bottom: 0 } },
        plugins: { legend: { display: false }, tooltip: { enabled: false }, title: { display: false } },
        scales: {
          x: {
            type: 'linear',
            min: 0,
            max: X_MAX,
            afterFit: (s: any) => { s.height = xAxisH; },
            afterBuildTicks: (s: any) => { s.ticks = X_TICKS.map((v) => ({ value: v })); },
            ticks: {
              autoSkip: false,
              maxRotation: 0,
              minRotation: 0,
              padding: 2,
              color: '#000',
              font: { family: FONT, size: 10 },
              callback: (v: any) => fmtX(Number(v)),
            },
            grid,
            border: { display: false },
          },
          y: {
            type: 'linear',
            min: spec.min,
            max: spec.max,
            afterFit: (s: any) => { s.width = PLOT_LEFT; },
            afterBuildTicks: (s: any) => { s.ticks = spec.ticks.map((v) => ({ value: v })); },
            ticks: {
              autoSkip: false,
              padding: 4,
              color: '#000',
              font: { family: FONT, size: 10 },
              callback: (v: any) => fmtY(Number(v), spec.dec),
            },
            grid,
            border: { display: false },
          },
        },
      } as any,
      plugins: [framePlugin],
    });
    return () => chart.destroy();
  }, []);

  const groupTitle = index % 4 === 0 ? TITLES[index / 4] : null;

  return (
    <>
      <canvas
        ref={ref}
        width={W}
        height={CANVAS_H}
        style={{ position: 'absolute', left: 0, top: canvasTop, width: W, height: CANVAS_H, zIndex: 1 }}
      />
      <div
        style={{
          position: 'absolute',
          left: PLOT_LEFT + 5,
          top: top + 5,
          zIndex: 3,
          display: 'flex',
          alignItems: 'center',
          padding: '1px 4px 1px 2px',
          border: '1px solid #cccccc',
          borderRadius: 3,
          background: 'rgba(255,255,255,0.8)',
          font: `10px ${FONT}`,
          lineHeight: '12px',
          color: '#000',
          whiteSpace: 'nowrap',
        }}
      >
        <span style={{ display: 'inline-block', width: 21, height: 2, background: spec.color, marginRight: 7 }} />
        <span>{LABELS[index]}</span>
      </div>
      {groupTitle && (
        <div
          style={{
            position: 'absolute',
            left: PLOT_LEFT,
            width: PLOT_RIGHT - PLOT_LEFT,
            top: top - 18,
            zIndex: 2,
            textAlign: 'center',
            font: `12px ${FONT}`,
            lineHeight: '14px',
            color: '#000',
            whiteSpace: 'nowrap',
          }}
        >
          {groupTitle}
        </div>
      )}
    </>
  );
}

export default function App() {
  const specs = buildSpecs();
  return (
    <div style={{ position: 'absolute', left: 0, top: 0, width: W, height: H, background: '#fff', overflow: 'hidden' }}>
      {specs.map((s, i) => (
        <Panel key={i} spec={s} index={i} />
      ))}
    </div>
  );
}
